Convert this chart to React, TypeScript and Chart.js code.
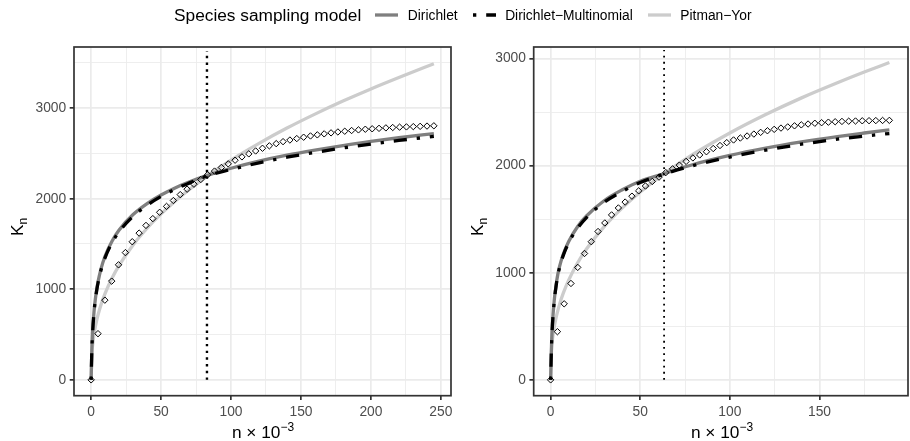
import React, { useEffect, useRef } from "react";
import { Chart, registerables } from "chart.js";

Chart.register(...registerables);

const FONT = "'Liberation Sans', Arial, Helvetica, sans-serif";

// ---------- Left panel data ----------
const leftCurveX = [0, 0.5, 1, 2, 3, 4, 5, 7, 10, 15, 20, 30, 40, 50, 60, 70, 83, 100, 120, 140, 160, 180, 200, 220, 245];
const leftDirichlet = [0, 331, 516, 743, 890, 1000, 1087, 1222, 1367, 1534, 1655, 1825, 1946, 2041, 2119, 2184, 2257, 2336, 2414, 2480, 2536, 2587, 2632, 2673, 2719];
const leftDirMult = [0, 325, 508, 735, 880, 990, 1075, 1208, 1350, 1515, 1635, 1805, 1928, 2025, 2105, 2172, 2252, 2322, 2396, 2458, 2511, 2560, 2603, 2643, 2688];
const leftPitmanYor = [0, 284, 376, 497, 586, 659, 721, 826, 955, 1125, 1264, 1490, 1674, 1832, 1972, 2099, 2250, 2426, 2611, 2780, 2934, 3078, 3212, 3338, 3490];
const leftObsX = [0, 4.9, 9.8, 14.7, 19.6, 24.5, 29.4, 34.3, 39.2, 44.1, 49, 53.9, 58.8, 63.7, 68.6, 73.5, 78.4, 83.3, 88.2, 93.1, 98, 102.9, 107.8, 112.7, 117.6, 122.5, 127.4, 132.3, 137.2, 142.1, 147, 151.9, 156.8, 161.7, 166.6, 171.5, 176.4, 181.3, 186.2, 191.1, 196, 200.9, 205.8, 210.7, 215.6, 220.5, 225.4, 230.3, 235.2, 240.1, 245];
const leftObsY = [0, 510, 880, 1090, 1270, 1405, 1525, 1620, 1705, 1780, 1850, 1915, 1980, 2045, 2105, 2160, 2212, 2265, 2305, 2345, 2385, 2425, 2462, 2495, 2527, 2557, 2584, 2608, 2630, 2648, 2664, 2679, 2693, 2705, 2716, 2727, 2737, 2745, 2753, 2760, 2767, 2772, 2777, 2782, 2786, 2790, 2793, 2796, 2799, 2802, 2805];
const leftCutoffX = 82.8;
const leftCutoffTop = 3630;
const leftXMajor = [0, 50, 100, 150, 200, 250];
const leftXMinor = [25, 75, 125, 175, 225];
const leftYMajor = [0, 1000, 2000, 3000];
const leftYMinor = [500, 1500, 2500, 3500];
const leftXRange = [-12.25, 257.25];
const leftYRange = [-175, 3675];

// ---------- Right panel data ----------
const rightCurveX = [0, 0.5, 1, 2, 3, 4, 5, 7, 10, 15, 20, 30, 40, 50, 63, 80, 100, 120, 140, 160, 175, 189];
const rightDirichlet = [0, 330, 520, 740, 880, 985, 1060, 1170, 1290, 1430, 1530, 1675, 1775, 1855, 1924, 2013, 2096, 2164, 2222, 2272, 2305, 2334];
const rightDirMult = [0, 325, 512, 730, 870, 975, 1050, 1160, 1278, 1415, 1515, 1660, 1760, 1843, 1920, 2003, 2080, 2145, 2200, 2247, 2276, 2300];
const rightPitmanYor = [0, 285, 375, 493, 578, 647, 707, 807, 929, 1091, 1222, 1433, 1606, 1754, 1921, 2111, 2305, 2477, 2633, 2774, 2874, 2963];
const rightObsX = [0, 3.78, 7.56, 11.34, 15.12, 18.9, 22.68, 26.46, 30.24, 34.02, 37.8, 41.58, 45.36, 49.14, 52.92, 56.7, 60.48, 64.26, 68.04, 71.82, 75.6, 79.38, 83.16, 86.94, 90.72, 94.5, 98.28, 102.06, 105.84, 109.62, 113.4, 117.18, 120.96, 124.74, 128.52, 132.3, 136.08, 139.86, 143.64, 147.42, 151.2, 154.98, 158.76, 162.54, 166.32, 170.1, 173.88, 177.66, 181.44, 185.22, 189];
const rightObsY = [0, 450, 710, 900, 1050, 1180, 1290, 1385, 1465, 1540, 1605, 1660, 1715, 1765, 1810, 1852, 1893, 1935, 1970, 2005, 2040, 2072, 2100, 2130, 2160, 2188, 2215, 2240, 2258, 2277, 2295, 2311, 2326, 2339, 2351, 2362, 2372, 2381, 2389, 2396, 2401, 2406, 2410, 2413, 2415, 2417, 2419, 2420, 2421, 2422, 2423];
const rightCutoffX = 63.3;
const rightCutoffTop = 3080;
const rightXMajor = [0, 50, 100, 150];
const rightXMinor = [25, 75, 125, 175];
const rightYMajor = [0, 1000, 2000, 3000];
const rightYMinor = [500, 1500, 2500];
const rightXRange = [-9.45, 199.4];
const rightYRange = [-148, 3108];

const seriesNames = ["Dirichlet", "Dirichlet\u2212Multinomial", "Pitman\u2212Yor"];
const COL_D = "#7F7F7F";
const COL_DM = "#000000";
const COL_PY = "#CCCCCC";
const LW = 3.3;
const DOTDASH = [3.3, 9.9, 13.2, 9.9];

type Panel = {
  curveX: number[];
  d: number[];
  dm: number[];
  py: number[];
  obsX: number[];
  obsY: number[];
  cutX: number;
  cutTop: number;
  xMajor: number[];
  xMinor: number[];
  yMajor: number[];
  yMinor: number[];
  xRange: number[];
  yRange: number[];
  yAxisWidth: number;
  padRight: number;
  dotWidth: number;
  dotDash: number[];
};

const frame = {
  id: "frame",
  afterDatasetsDraw(chart: any) {
    const { ctx, chartArea: a } = chart;
    ctx.save();
    ctx.strokeStyle = "#333333";
    ctx.lineWidth = 1.7;
    ctx.strokeRect(a.left, a.top, a.right - a.left, a.bottom - a.top);
    ctx.restore();
  },
};

function axis(major: number[], minor: number[], range: number[], fit: (s: any) => void) {
  const all = [...major, ...minor].sort((a, b) => a - b);
  const majorSet = new Set(major);
  return {
    type: "linear" as const,
    min: range[0],
    max: range[1],
    afterBuildTicks: (s: any) => {
      s.ticks = all.map((v) => ({ value: v }));
    },
    afterFit: fit,
    grid: {
      color: "#EBEBEB",
      lineWidth: (c: any) => (c.tick && majorSet.has(c.tick.value) ? 1.7 : 0.85),
      tickColor: (c: any) => (c.tick && majorSet.has(c.tick.value) ? "#333333" : "rgba(0,0,0,0)"),
      tickLength: 4.3,
      tickWidth: 1.7,
      drawTicks: true,
    },
    border: { display: false },
    ticks: {
      autoSkip: false,
      maxRotation: 0,
      minRotation: 0,
      padding: 3.5,
      color: "#4D4D4D",
      font: { family: FONT, size: 13.8 },
      callback: (v: any) => (majorSet.has(v) ? String(v) : ""),
    },
  };
}

function build(canvas: HTMLCanvasElement, p: Panel) {
  const pts = (xs: number[], ys: number[]) => xs.map((x, i) => ({ x, y: ys[i] }));
  return new Chart(canvas, {
    type: "line",
    data: {
      datasets: [
        {
          label: "observed",
          data: pts(p.obsX, p.obsY),
          showLine: false,
          pointStyle: "rectRot",
          pointRadius: 3.2,
          pointBorderColor: "#000000",
          pointBackgroundColor: "rgba(0,0,0,0)",
          pointBorderWidth: 1,
          order: 0,
        },
        {
          label: "cutoff",
          data: [
            { x: p.cutX, y: 0 },
            { x: p.cutX, y: p.cutTop },
          ],
          borderColor: "#000000",
          borderWidth: p.dotWidth,
          borderDash: p.dotDash,
          borderCapStyle: "butt",
          pointRadius: 0,
          order: 1,
        },
        {
          label: seriesNames[1],
          data: pts(p.curveX, p.dm),
          borderColor: COL_DM,
          borderWidth: LW,
          borderDash: DOTDASH,
          borderCapStyle: "butt",
          cubicInterpolationMode: "monotone",
          pointRadius: 0,
          order: 2,
        },
        {
          label: seriesNames[0],
          data: pts(p.curveX, p.d),
          borderColor: COL_D,
          borderWidth: LW,
          cubicInterpolationMode: "monotone",
          pointRadius: 0,
          order: 3,
        },
        {
          label: seriesNames[2],
          data: pts(p.curveX, p.py),
          borderColor: COL_PY,
          borderWidth: LW,
          cubicInterpolationMode: "monotone",
          pointRadius: 0,
          order: 4,
        },
      ] as any,
    },
    options: {
      responsive: false,
      animation: false,
      events: [],
      layout: { padding: { top: 47, right: p.padRight, bottom: 0, left: 0 } },
      plugins: { legend: { display: false }, tooltip: { enabled: false }, title: { display: false } },
      scales: {
        x: axis(p.xMajor, p.xMinor, p.xRange, (s: any) => {
          s.height = 45.3;
        }),
        y: axis(p.yMajor, p.yMinor, p.yRange, (s: any) => {
          s.width = p.yAxisWidth;
        }),
      },
    } as any,
    plugins: [frame],
  });
}

const leftPanel: Panel = {
  curveX: leftCurveX,
  d: leftDirichlet,
  dm: leftDirMult,
  py: leftPitmanYor,
  obsX: leftObsX,
  obsY: leftObsY,
  cutX: leftCutoffX,
  cutTop: leftCutoffTop,
  xMajor: leftXMajor,
  xMinor: leftXMinor,
  yMajor: leftYMajor,
  yMinor: leftYMinor,
  xRange: leftXRange,
  yRange: leftYRange,
  yAxisWidth: 74,
  padRight: 4,
  dotWidth: 2.4,
  dotDash: [2.4, 4.3],
};

const rightPanel: Panel = {
  curveX: rightCurveX,
  d: rightDirichlet,
  dm: rightDirMult,
  py: rightPitmanYor,
  obsX: rightObsX,
  obsY: rightObsY,
  cutX: rightCutoffX,
  cutTop: rightCutoffTop,
  xMajor: rightXMajor,
  xMinor: rightXMinor,
  yMajor: rightYMajor,
  yMinor: rightYMinor,
  xRange: rightXRange,
  yRange: rightYRange,
  yAxisWidth: 78.7,
  padRight: 0,
  dotWidth: 1.8,
  dotDash: [1.8, 4.4],
};

function Key({ color, dash }: { color: string; dash?: number[] }) {
  return (
    <svg width={23} height={14} style={{ display: "block" }}>
      <line
        x1={0}
        y1={7}
        x2={23}
        y2={7}
        stroke={color}
        strokeWidth={LW}
        strokeDasharray={dash ? dash.join(" ") : undefined}
      />
    </svg>
  );
}

function Gap({ w }: { w: number }) {
  return <span style={{ display: "inline-block", width: w }} />;
}

export default function App() {
  const leftRef = useRef<HTMLCanvasElement>(null);
  const rightRef = useRef<HTMLCanvasElement>(null);

  useEffect(() => {
    const a = build(leftRef.current!, leftPanel);
    const b = build(rightRef.current!, rightPanel);
    return () => {
      a.destroy();
      b.destroy();
    };
  }, []);

  const labelStyle: React.CSSProperties = { fontSize: 13.8, color: "#000" };
  const axisTitle: React.CSSProperties = {
    position: "absolute",
    fontSize: 17.3,
    lineHeight: 1,
    whiteSpace: "nowrap",
    color: "#000",
  };

  return (
    <div
      style={{
        position: "absolute",
        left: 0,
        top: 0,
        width: 910,
        height: 441,
        overflow: "hidden",
        background: "#ffffff",
        fontFamily: FONT,
      }}
    >
      <canvas ref={leftRef} width={456} height={441} style={{ position: "absolute", left: 0, top: 0, width: 456, height: 441 }} />
      <canvas ref={rightRef} width={458} height={441} style={{ position: "absolute", left: 455, top: 0, width: 458, height: 441 }} />

      <div
        style={{
          position: "absolute",
          left: 174,
          top: 0,
          height: 30,
          display: "flex",
          alignItems: "center",
          whiteSpace: "nowrap",
        }}
      >
        <span style={{ fontSize: 17.3 }}>Species sampling model</span>
        <Gap w={14} />
        <Key color={COL_D} />
        <Gap w={9.5} />
        <span style={labelStyle}>{seriesNames[0]}</span>
        <Gap w={15} />
        <Key color={COL_DM} dash={DOTDASH} />
        <Gap w={9.5} />
        <span style={labelStyle}>{seriesNames[1]}</span>
        <Gap w={15} />
        <Key color={COL_PY} />
        <Gap w={9.5} />
        <span style={labelStyle}>{seriesNames[2]}</span>
      </div>

      <div style={{ ...axisTitle, left: 17.5, top: 227, transform: "translate(-50%,-50%) rotate(-90deg)" }}>
        K<span style={{ fontSize: 12, position: "relative", top: 4 }}>n</span>
      </div>
      <div style={{ ...axisTitle, left: 478, top: 227, transform: "translate(-50%,-50%) rotate(-90deg)" }}>
        K<span style={{ fontSize: 12, position: "relative", top: 4 }}>n</span>
      </div>

      <div style={{ ...axisTitle, left: 263, top: 424, transform: "translateX(-50%)" }}>
        n × 10<span style={{ fontSize: 12, position: "relative", top: -7 }}>{"\u22123"}</span>
      </div>
      <div style={{ ...axisTitle, left: 722, top: 424, transform: "translateX(-50%)" }}>
        n × 10<span style={{ fontSize: 12, position: "relative", top: -7 }}>{"\u22123"}</span>
      </div>
    </div>
  );
}
